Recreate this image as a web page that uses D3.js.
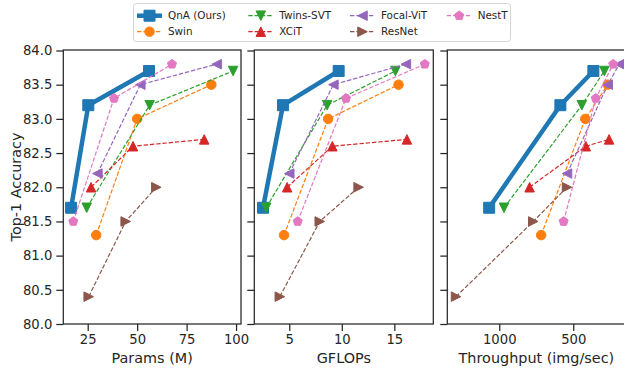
<!DOCTYPE html>
<html>
<head>
<meta charset="utf-8">
<script src="https://cdn.jsdelivr.net/npm/d3@7"></script>
<style>
  html, body { margin: 0; padding: 0; background: #fff; }
  svg { display: block; font-family: "DejaVu Sans", sans-serif; }
</style>
</head>
<body>
<svg id="chart" width="624" height="374"></svg>
<script>
// ---------------- data ----------------
const models = ["QnA (Ours)", "Swin", "Twins-SVT", "XCiT", "Focal-ViT", "ResNet", "NestT"];
const colors = ["#1f77b4", "#ff7f0e", "#2ca02c", "#d62728", "#9467bd", "#8c564b", "#e377c2"];
const markers = ["square", "circle", "tdown", "tup", "tleft", "tright", "pentagon"];

const top1 = [
  [81.7, 83.2, 83.7],
  [81.3, 83.0, 83.5],
  [81.7, 83.2, 83.7],
  [82.0, 82.6, 82.7],
  [82.2, 83.5, 83.8],
  [80.4, 81.5, 82.0],
  [81.5, 83.3, 83.8]
];
const paramsM = [
  [16.6, 25.3, 56.0],
  [29.3, 50.0, 87.5],
  [24.5, 56.3, 98.5],
  [26.7, 47.9, 83.9],
  [29.9, 51.6, 90.2],
  [25.5, 44.2, 59.7],
  [17.7, 38.3, 67.6]
];
const gflops = [
  [2.5, 4.4, 9.7],
  [4.5, 8.7, 15.4],
  [2.8, 8.6, 15.1],
  [4.8, 9.1, 16.2],
  [5.0, 9.2, 16.1],
  [4.1, 7.9, 11.6],
  [5.8, 10.4, 17.9]
];
const throughput = [
  [1068, 587, 364],
  [717, 419, 267],
  [968, 442, 290],
  [795, 415, 258],
  [542, 267, 189],
  [1292, 770, 542],
  [565, 348, 230]
];

const yTicks = [80.0, 80.5, 81.0, 81.5, 82.0, 82.5, 83.0, 83.5, 84.0];
const paramTicks = [25, 50, 75, 100];
const gflopTicks = [5, 10, 15];
const throughputTicks = [1000, 500];
const xLabels = ["Params (M)", "GFLOPs", "Throughput (img/sec)"];
const yLabel = "Top-1 Accuracy";

// ---------------- layout ----------------
const svg = d3.select("#chart");
const ink = "#262626";
const plotTop = 50, plotBottom = 324;
const y = d3.scaleLinear().domain([80, 84]).range([plotBottom, 50.5]);

const panels = [
  { x0: 63.3, x1: 241,   domain: [12.66, 102.5], ticks: paramTicks, data: paramsM, fmt: d3.format("d"), label: xLabels[0] },
  { x0: 254.3, x1: 433.3, domain: [1.67, 18.71], ticks: gflopTicks, data: gflops, fmt: d3.format("d"), label: xLabels[1] },
  { x0: 447.3, x1: 625.5, domain: [1351, 147],   ticks: throughputTicks, data: throughput, fmt: d3.format("d"), label: xLabels[2] }
];

function markerPath(type, m) {
  const r = m / 2;
  switch (type) {
    case "square": return `M${-r},${-r}H${r}V${r}H${-r}Z`;
    case "circle": return d3.symbol(d3.symbolCircle, Math.PI * r * r)();
    case "tup": return `M0,${-r}L${r},${r}L${-r},${r}Z`;
    case "tdown": return `M0,${r}L${r},${-r}L${-r},${-r}Z`;
    case "tleft": return `M${-r},0L${r},${-r}L${r},${r}Z`;
    case "tright": return `M${r},0L${-r},${-r}L${-r},${r}Z`;
    case "pentagon": {
      const pts = d3.range(5).map(i => {
        const a = -Math.PI / 2 + i * 2 * Math.PI / 5;
        return [r * Math.cos(a), r * Math.sin(a)];
      });
      return "M" + pts.map(p => p.join(",")).join("L") + "Z";
    }
  }
}

function styleFor(i) {
  if (i === 0) return { lw: 4.5, dash: null, m: 11 };
  return { lw: 1.2, dash: "4.4,1.9", m: 9.5 };
}

panels.forEach((p, pi) => {
  const x = d3.scaleLinear().domain(p.domain).range([p.x0, p.x1]);
  const g = svg.append("g");

  const clipId = "clip" + pi;
  svg.append("clipPath").attr("id", clipId)
    .append("rect").attr("x", p.x0 - 8).attr("y", plotTop - 8)
    .attr("width", p.x1 - p.x0 + 16).attr("height", plotBottom - plotTop + 16);

  // x axis
  const xAxis = d3.axisBottom(x).tickValues(p.ticks).tickFormat(p.fmt).tickSize(7).tickPadding(3);
  const gx = g.append("g").attr("transform", `translate(0,${plotBottom})`).call(xAxis);
  gx.select(".domain").remove();
  gx.selectAll(".tick line").attr("stroke", ink).attr("stroke-width", 1.25);
  gx.selectAll(".tick text").attr("fill", ink).attr("font-size", 13.2)
    .attr("font-family", "DejaVu Sans").attr("dy", "0.72em");

  // y axis
  const yAxis = d3.axisLeft(y).tickValues(yTicks).tickFormat(pi === 0 ? d3.format(".1f") : () => "")
    .tickSize(7).tickPadding(4);
  const gy = g.append("g").attr("transform", `translate(${p.x0},0)`).call(yAxis);
  gy.select(".domain").remove();
  gy.selectAll(".tick line").attr("stroke", ink).attr("stroke-width", 1.25);
  gy.selectAll(".tick text").attr("fill", ink).attr("font-size", 13.2)
    .attr("font-family", "DejaVu Sans");

  // data
  const plot = g.append("g").attr("clip-path", `url(#${clipId})`);
  models.forEach((name, i) => {
    const st = styleFor(i);
    const pts = p.data[i].map((v, k) => [x(v), y(top1[i][k])]);
    plot.append("path")
      .attr("d", d3.line()(pts))
      .attr("fill", "none")
      .attr("stroke", colors[i])
      .attr("stroke-width", st.lw)
      .attr("stroke-dasharray", st.dash)
      .attr("stroke-linejoin", "round");
    plot.selectAll(null).data(pts).enter().append("path")
      .attr("transform", d => `translate(${d[0]},${d[1]})`)
      .attr("d", markerPath(markers[i], st.m))
      .attr("fill", colors[i])
      .attr("stroke", colors[i])
      .attr("stroke-width", 1);
  });

  // frame
  g.append("rect")
    .attr("x", p.x0).attr("y", plotTop)
    .attr("width", p.x1 - p.x0).attr("height", plotBottom - plotTop)
    .attr("fill", "none").attr("stroke", ink).attr("stroke-width", 1.25);

  // x label
  g.append("text")
    .attr("x", (p.x0 + p.x1) / 2).attr("y", 363)
    .attr("text-anchor", "middle")
    .attr("font-size", 14.4).attr("fill", ink)
    .text(p.label);
});

// y label
svg.append("text")
  .attr("transform", "translate(20.5,187) rotate(-90)")
  .attr("text-anchor", "middle")
  .attr("font-size", 14.4).attr("fill", ink)
  .text(yLabel);

// ---------------- legend ----------------
const lg = svg.append("g");
lg.append("rect")
  .attr("x", 133.5).attr("y", 3.5).attr("width", 377).attr("height", 38)
  .attr("rx", 3).attr("fill", "#fff").attr("fill-opacity", 0.8)
  .attr("stroke", "#d5d5d5").attr("stroke-width", 1);

const colX = [137, 248.3, 350, 446.7];
const rowY = [15.7, 31.7];
models.forEach((name, i) => {
  const col = Math.floor(i / 2), row = i % 2;
  const hx = colX[col], hy = rowY[row];
  const st = styleFor(i);
  lg.append("line")
    .attr("x1", hx).attr("x2", hx + 25).attr("y1", hy).attr("y2", hy)
    .attr("stroke", colors[i]).attr("stroke-width", st.lw)
    .attr("stroke-dasharray", st.dash);
  lg.append("path")
    .attr("transform", `translate(${hx + 12.5},${hy})`)
    .attr("d", markerPath(markers[i], st.m))
    .attr("fill", colors[i]).attr("stroke", colors[i]).attr("stroke-width", 1);
  lg.append("text")
    .attr("x", hx + 31).attr("y", hy).attr("dy", "0.36em")
    .attr("font-size", 10.4).attr("fill", ink)
    .text(name);
});
</script>
</body>
</html>
